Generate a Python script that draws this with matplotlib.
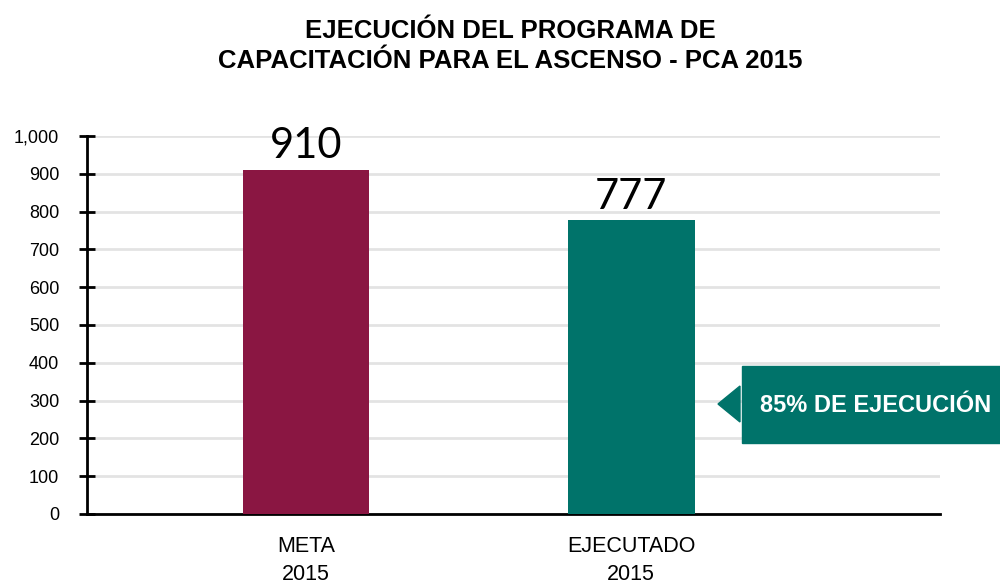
from matplotlib import pyplot as plt
from matplotlib.patches import Rectangle, Polygon

categorias = ['META\n2015', 'EJECUTADO\n2015']
valores = [910, 777]
colores = ['#8a1642', '#00736a']
ejecucion = '85% DE EJECUCIÓN'
titulo = 'EJECUCIÓN DEL PROGRAMA DE\nCAPACITACIÓN PARA EL ASCENSO - PCA 2015'

plt.rcParams['font.family'] = ['Liberation Sans', 'DejaVu Sans']

fig = plt.figure(figsize=(10, 5.88), dpi=100)
W, H = 1000, 588
ax = fig.add_axes([87 / W, 1 - 514 / H, (940 - 87) / W, (514 - 136) / H])

x = list(range(len(valores)))
ax.bar(x, valores, width=0.39, color=colores, zorder=3)
for xi, v in zip(x, valores):
    ax.text(xi, v + 12, str(v), ha='center', va='bottom', fontsize=30,
            family=['Lato', 'DejaVu Sans'], color='black')

ax.set_xlim(-0.674, 1.95)
ax.set_ylim(0, 1000)
ax.set_yticks(range(0, 1001, 100))
ax.set_yticklabels(['{:,}'.format(t) for t in range(0, 1001, 100)], fontsize=13)
ax.set_xticks([])
ax.grid(axis='y', color='#e3e3e3', linewidth=2, zorder=0)
for s in ['top', 'right']:
    ax.spines[s].set_visible(False)
ax.spines['left'].set_linewidth(2)
ax.spines['bottom'].set_linewidth(2)
ax.tick_params(axis='y', direction='inout', length=12, width=2, pad=14)

for xi, c in zip(x, categorias):
    ax.text(xi, -58, c, ha='center', va='top', fontsize=15.5, linespacing=1.45)

fig.text(0.51, 1 - 46 / H, titulo, ha='center', va='center', fontsize=18.5,
         fontweight='bold', linespacing=1.3)

# callout
verde = colores[1]
fig.patches.append(Rectangle((742 / W, 1 - 443 / H), (1000 - 742) / W, 77 / H,
                             transform=fig.transFigure, color=verde))
fig.patches.append(Polygon([(718 / W, 1 - 404 / H), (740 / W, 1 - 386 / H),
                            (740 / W, 1 - 422 / H)],
                           transform=fig.transFigure, color=verde))
fig.text(876 / W, 1 - 406 / H, ejecucion, ha='center', va='center',
         fontsize=17, fontweight='bold', color='white')

plt.savefig('out.png', dpi=100)
